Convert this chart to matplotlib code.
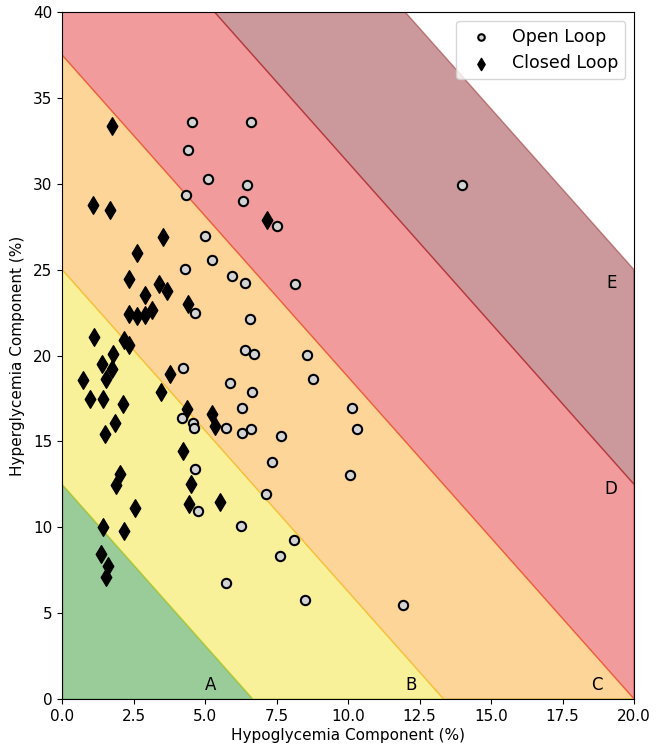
import numpy as np
import matplotlib
matplotlib.use("Agg")
import matplotlib.pyplot as plt

# GRI = 3.0 * hypo + 1.6 * hyper, zone limits
gri_limits = [0, 20, 40, 60, 80, 100]
zone_names = ["A", "B", "C", "D", "E"]
zone_colors = ["#008000", "#f2dc00", "#fa9600", "#de060a", "#7f0005"]
label_x = [5.2, 12.2, 18.7, 19.2, 19.2]
label_y = [0.3, 0.3, 0.3, 11.7, 23.7]

open_hypo = [4.56, 6.61, 4.42, 5.10, 6.47, 4.34, 6.33, 7.53, 4.99, 5.23, 4.31, 5.95,
             6.40, 8.16, 4.65, 6.57, 6.40, 6.72, 8.56, 4.24, 8.77, 5.87, 6.63, 6.28,
             10.13, 4.19, 4.59, 4.63, 5.72, 6.60, 6.28, 10.33, 7.66, 7.35, 4.65, 10.07,
             7.12, 4.77, 6.26, 8.12, 7.62, 5.72, 8.50, 11.93, 14.0]
open_hyper = [33.61, 33.61, 31.97, 30.26, 29.93, 29.34, 29.00, 27.56, 26.94, 25.58, 25.02, 24.61,
              24.20, 24.15, 22.49, 22.13, 20.32, 20.07, 20.03, 19.29, 18.61, 18.38, 17.86, 16.94,
              16.94, 16.38, 16.05, 15.76, 15.76, 15.70, 15.47, 15.70, 15.30, 13.82, 13.37, 13.04,
              11.94, 10.95, 10.09, 9.26, 8.33, 6.74, 5.76, 5.47, 29.93]

closed_hypo = [1.74, 1.08, 1.68, 7.18, 3.53, 2.63, 2.33, 3.39, 3.68, 2.91, 4.42, 3.16,
               2.35, 2.63, 2.91, 1.12, 2.16, 2.35, 1.77, 1.40, 1.75, 0.74, 1.55, 3.77,
               3.46, 0.97, 1.43, 2.12, 4.37, 5.23, 5.36, 1.85, 1.50, 4.24, 2.04, 1.88,
               4.52, 4.45, 5.51, 2.54, 1.43, 2.16, 1.36, 1.62, 1.55]
closed_hyper = [33.38, 28.76, 28.47, 27.87, 26.88, 25.95, 24.44, 24.18, 23.74, 23.51, 22.98, 22.67,
                22.40, 22.30, 22.34, 21.06, 20.90, 20.59, 20.09, 19.51, 19.23, 18.59, 18.63, 18.94,
                17.89, 17.45, 17.45, 17.18, 16.88, 16.61, 15.88, 16.09, 15.43, 14.42, 13.10, 12.48,
                12.50, 11.35, 11.47, 11.14, 10.03, 9.80, 8.46, 7.76, 7.10]

fig = plt.figure(figsize=(6.57, 7.54), dpi=100)
ax = fig.add_axes([0.0944, 0.073, 0.8706, 0.911])

xs = np.linspace(0, 20, 801)
for i in range(len(zone_names)):
    lo = np.clip((gri_limits[i] - 3.0 * xs) / 1.6, 0, None)
    hi = np.clip((gri_limits[i + 1] - 3.0 * xs) / 1.6, 0, None)
    ax.fill_between(xs, lo, hi, color=zone_colors[i], alpha=0.4, lw=1)
    ax.text(label_x[i], label_y[i], zone_names[i], fontsize=12, ha="center", va="bottom")

ax.scatter(open_hypo, open_hyper, s=45, marker="o", facecolor="lightgrey",
           edgecolor="black", linewidths=1.5, label="Open Loop", zorder=3)
ax.scatter(closed_hypo, closed_hyper, s=80, marker="d", color="black",
           label="Closed Loop", zorder=3)

ax.set_xlim(0, 20)
ax.set_ylim(0, 40)
ax.set_xticks(np.arange(0, 20.1, 2.5))
ax.set_yticks(np.arange(0, 41, 5))
ax.tick_params(labelsize=11)
ax.set_xlabel("Hypoglycemia Component (%)", fontsize=11, labelpad=3)
ax.set_ylabel("Hyperglycemia Component (%)", fontsize=11, labelpad=6)
ax.legend(loc="upper right", fontsize=12.5, markerscale=0.7)

fig.savefig("out.png", dpi=100)
